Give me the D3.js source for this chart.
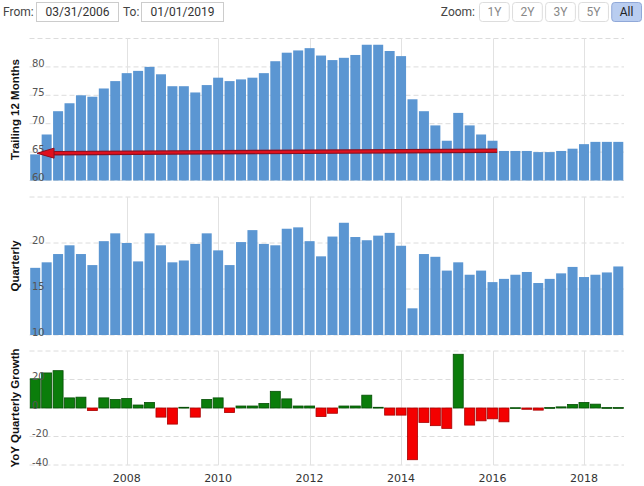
<!DOCTYPE html>
<html>
<head>
<meta charset="utf-8">
<script src="https://cdn.jsdelivr.net/npm/d3@7/dist/d3.min.js"></script>
<style>
  html, body { margin: 0; padding: 0; background: #fff; }
  svg { display: block; }
</style>
</head>
<body>
<svg id="chart" width="644" height="486"></svg>
<script>
// ---- Data ----
const quarters = [
  "2006Q1","2006Q2","2006Q3","2006Q4","2007Q1","2007Q2","2007Q3","2007Q4",
  "2008Q1","2008Q2","2008Q3","2008Q4","2009Q1","2009Q2","2009Q3","2009Q4",
  "2010Q1","2010Q2","2010Q3","2010Q4","2011Q1","2011Q2","2011Q3","2011Q4",
  "2012Q1","2012Q2","2012Q3","2012Q4","2013Q1","2013Q2","2013Q3","2013Q4",
  "2014Q1","2014Q2","2014Q3","2014Q4","2015Q1","2015Q2","2015Q3","2015Q4",
  "2016Q1","2016Q2","2016Q3","2016Q4","2017Q1","2017Q2","2017Q3","2017Q4",
  "2018Q1","2018Q2","2018Q3","2018Q4"
];
const trailing12 = [64.6,68.1,72.2,73.6,75.0,74.75,76.2,77.5,78.9,79.3,
  80.0,78.7,76.6,76.6,75.5,76.8,78.1,77.5,77.8,78.1,
  78.9,81.0,82.5,82.9,83.3,82.0,81.2,81.6,82.1,83.9,
  83.9,82.8,81.9,74.3,72.2,69.7,67.0,71.9,69.7,68.1,
  67.0,65.2,65.2,65.2,65.0,65.0,65.2,65.6,66.4,66.8,
  66.8,66.8];
const quarterly = [17.3,17.9,18.8,19.75,18.8,17.6,20.2,21.05,20.0,18.0,
  21.05,19.75,17.9,18.1,19.9,21.05,19.2,17.6,20.1,21.4,
  19.9,19.75,21.55,21.7,20.2,18.55,20.7,22.2,20.65,20.3,
  20.8,21.1,19.7,12.9,18.8,18.5,17.0,17.9,16.55,17.0,
  15.75,16.1,16.55,16.85,15.65,16.1,16.7,17.4,16.3,16.55,
  16.8,17.45];
const yoyGrowth = [20.5,24.6,26.2,7.1,7.6,-1.8,7.1,6.0,6.7,2.1,
  3.9,-6.4,-11.3,0.5,-6.4,6.0,7.1,-3.2,1.4,1.4,
  3.2,11.7,6.4,1.4,1.4,-6.0,-3.7,1.4,1.4,9.0,
  0.5,-5.0,-5.0,-36.3,-10.1,-12.4,-14.3,37.7,-12.0,-9.0,
  -7.6,-9.7,0.2,-0.9,-1.5,0.3,0.8,2.5,3.9,2.7,
  0.3,0.3];
const xTickYears = [2008, 2010, 2012, 2014, 2016, 2018];
const t12Ticks = [60, 65, 70, 75, 80, 85];
const qTicks = [10, 15, 20, 25];
const yoyTicks = [-40, -20, 0, 20, 40];
// red arrow annotation on trailing 12 months (from -> to, in data units)
const arrowFrom = { year: 2016.1, value: 65.25 };
const arrowTo   = { year: 2006.04, value: 64.8 };
const fromDate = "03/31/2006", toDate = "01/01/2019";
const zoomButtons = ["1Y", "2Y", "3Y", "5Y", "All"];

// ---- Helpers ----
const qToYear = s => +s.slice(0, 4) + (+s.slice(5) - 1) / 4;
const svg = d3.select("#chart");
const x = d3.scaleLinear().domain([2005.875, 2018.875]).range([29.5, 624]);
const barW = 10;

const panels = [
  { values: trailing12, domain: [60, 85], range: [180.5, 38.5], ticks: t12Ticks, title: "Trailing 12 Months", base: 60 },
  { values: quarterly, domain: [10, 25], range: [335, 197], ticks: qTicks, title: "Quarterly", base: 10 },
  { values: yoyGrowth, domain: [-40, 40], range: [465, 351], ticks: yoyTicks, title: "YoY Quarterly Growth", base: 0, signed: true }
];

panels.forEach(p => {
  const y = d3.scaleLinear().domain(p.domain).range(p.range);
  const g = svg.append("g");
  // horizontal dashed grid
  g.selectAll("line.hg").data(p.ticks).join("line")
    .attr("x1", x.range()[0]).attr("x2", x.range()[1])
    .attr("y1", d => y(d)).attr("y2", d => y(d))
    .attr("stroke", "#dcdcdc").attr("stroke-width", 1).attr("stroke-dasharray", "5,3");
  // vertical grid
  g.selectAll("line.vg").data(xTickYears).join("line")
    .attr("x1", d => Math.round(x(d)) + 0.5).attr("x2", d => Math.round(x(d)) + 0.5)
    .attr("y1", p.range[1]).attr("y2", p.range[0])
    .attr("stroke", "#e2e2e2").attr("stroke-width", 1);
  // bars
  const data = quarters.map((q, i) => ({ q, v: p.values[i] }));
  g.selectAll("rect").data(data).join("rect")
    .attr("x", d => x(qToYear(d.q)) - barW / 2)
    .attr("width", barW)
    .attr("y", d => Math.min(y(d.v), y(p.base)))
    .attr("height", d => Math.max(Math.abs(y(d.v) - y(p.base)), 0.8))
    .attr("fill", d => p.signed ? (d.v >= 0 ? "#0b7d0b" : "#f40000") : "#5b96d2")
    .attr("stroke", d => p.signed ? (d.v >= 0 ? "#064f06" : "#a80000") : "none")
    .attr("stroke-width", p.signed ? 0.8 : 0);
  // y labels (top tick hidden)
  g.selectAll("text.yl").data(p.ticks.slice(0, -1)).join("text")
    .attr("x", 32).attr("y", d => y(d) + 0.5)
    .attr("font-family", "DejaVu Sans, sans-serif").attr("font-size", 10)
    .attr("fill", "#555").text(d => d);
  // title
  const cy = (p.range[0] + p.range[1]) / 2;
  g.append("text")
    .attr("transform", `translate(19,${cy}) rotate(-90)`)
    .attr("text-anchor", "middle")
    .attr("font-family", "Liberation Sans, Arial, sans-serif").attr("font-weight", "bold")
    .attr("font-size", 11.5).attr("fill", "#111").text(p.title);
  p.y = y;
});

// x labels
svg.selectAll("text.xl").data(xTickYears).join("text")
  .attr("x", d => x(d)).attr("y", 482).attr("text-anchor", "middle")
  .attr("font-family", "DejaVu Sans, sans-serif").attr("font-size", 11)
  .attr("fill", "#333").text(d => d);

// red arrow annotation
const y1 = panels[0].y;
const ax0 = x(arrowFrom.year), ay0 = y1(arrowFrom.value);
const ax1 = x(arrowTo.year), ay1 = y1(arrowTo.value);
const ang = Math.atan2(ay1 - ay0, ax1 - ax0);
const headLen = 17, headHalf = 5;
const bx = ax1 - headLen * Math.cos(ang), by = ay1 - headLen * Math.sin(ang);
svg.append("line").attr("x1", ax0).attr("y1", ay0).attr("x2", bx).attr("y2", by)
  .attr("stroke", "#8a1020").attr("stroke-width", 4.5);
svg.append("line").attr("x1", ax0).attr("y1", ay0).attr("x2", bx).attr("y2", by)
  .attr("stroke", "#e0101e").attr("stroke-width", 2.2);
const px = -Math.sin(ang), py = Math.cos(ang);
svg.append("path")
  .attr("d", `M${ax1},${ay1}L${bx + px * headHalf},${by + py * headHalf}L${bx - px * headHalf},${by - py * headHalf}Z`)
  .attr("fill", "#e0101e").attr("stroke", "#8a1020").attr("stroke-width", 1);

// ---- Top controls ----
const ctrl = svg.append("g").attr("font-family", "Roboto, sans-serif").attr("font-size", 12);
ctrl.append("text").attr("x", 3).attr("y", 16).attr("fill", "#444").text("From:");
ctrl.append("rect").attr("x", 36.5).attr("y", 2.5).attr("width", 82).attr("height", 19)
  .attr("fill", "#fff").attr("stroke", "#ccc");
ctrl.append("text").attr("x", 77.5).attr("y", 16).attr("text-anchor", "middle").attr("fill", "#333").text(fromDate);
ctrl.append("text").attr("x", 123).attr("y", 16).attr("fill", "#444").text("To:");
ctrl.append("rect").attr("x", 141.5).attr("y", 2.5).attr("width", 82).attr("height", 19)
  .attr("fill", "#fff").attr("stroke", "#ccc");
ctrl.append("text").attr("x", 182.5).attr("y", 16).attr("text-anchor", "middle").attr("fill", "#333").text(toDate);
ctrl.append("text").attr("x", 475).attr("y", 16).attr("text-anchor", "end").attr("fill", "#444").text("Zoom:");
const bX = d3.scaleBand().domain(zoomButtons).range([479, 641]).paddingInner(0.1).paddingOuter(0);
zoomButtons.forEach(b => {
  const sel = b === "All";
  ctrl.append("rect").attr("x", bX(b) + 0.5).attr("y", 2.5).attr("width", bX.bandwidth()).attr("height", 19)
    .attr("rx", 3).attr("fill", sel ? "#b9cdf0" : "#fff").attr("stroke", sel ? "#90a8d8" : "#ddd");
  ctrl.append("text").attr("x", bX(b) + bX.bandwidth() / 2 + 0.5).attr("y", 16).attr("text-anchor", "middle")
    .attr("fill", sel ? "#222" : "#888").text(b);
});
</script>
</body>
</html>
